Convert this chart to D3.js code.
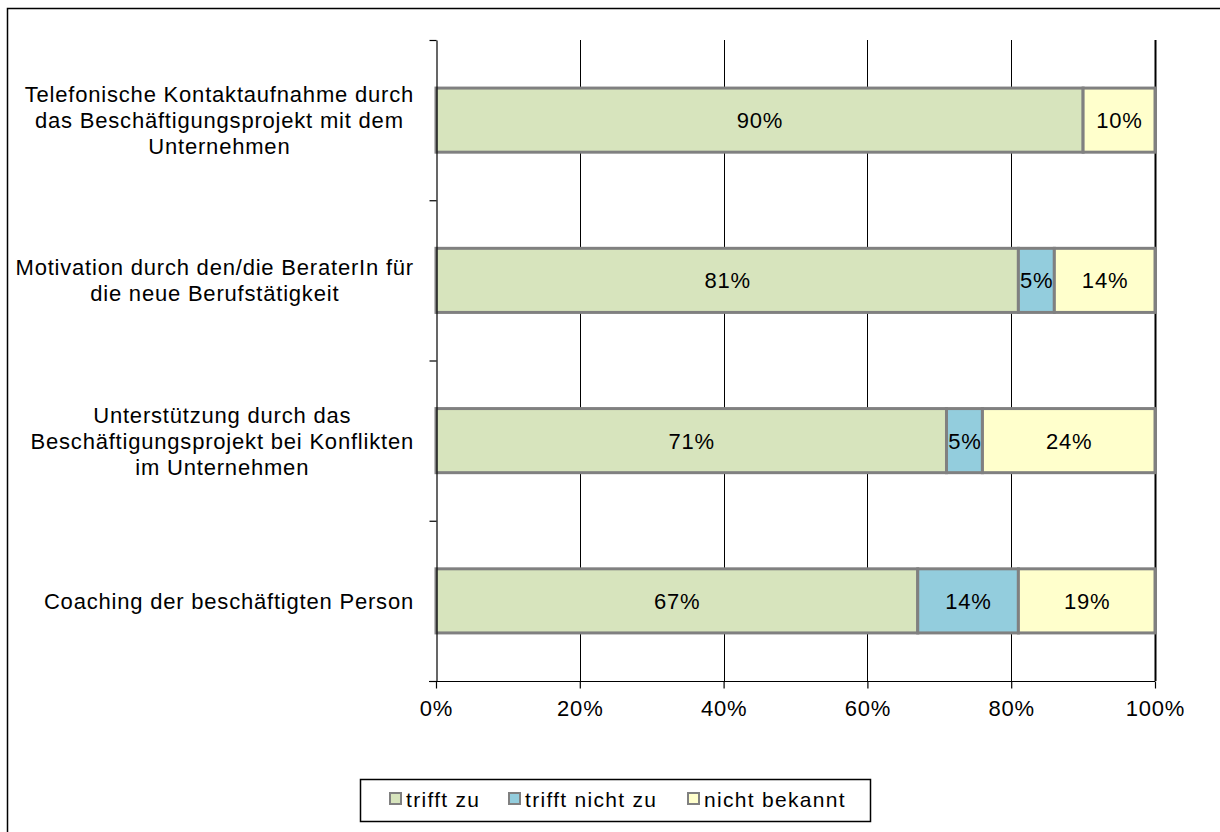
<!DOCTYPE html>
<html>
<head>
<meta charset="utf-8">
<script src="https://cdn.jsdelivr.net/npm/d3@7"></script>
<style>
  html, body { margin: 0; padding: 0; background: #fff; }
  svg { display: block; }
  text { font-family: "Liberation Sans", Arial, sans-serif; fill: #000; }
</style>
</head>
<body>
<svg id="chart" width="1220" height="832"></svg>
<script>
// Statements (each entry is one label, split into its lines)
const categories = [
  ["Telefonische Kontaktaufnahme durch", "das Beschäftigungsprojekt mit dem", "Unternehmen"],
  ["Motivation durch den/die BeraterIn für", "die neue Berufstätigkeit"],
  ["Unterstützung durch das", "Beschäftigungsprojekt bei Konflikten", "im Unternehmen"],
  ["Coaching der beschäftigten Person"]
];

// Shares in percent per answer
const triffZu      = [90, 81, 71, 67];
const triffNichtZu = [0, 5, 5, 14];
const nichtBekannt = [10, 14, 24, 19];

const seriesNames = ["trifft zu", "trifft nicht zu", "nicht bekannt"];
const seriesColors = ["#D7E4BD", "#93CDDD", "#FFFFCC"];

const xTicks = [0, 20, 40, 60, 80, 100];

// Layout
const plot = { left: 436, right: 1155, top: 40, bottom: 681 };
const fontSize = 22;
const spacing = 0.8;

const svg = d3.select("#chart");

// Outer chart frame
svg.append("rect")
  .attr("x", 7.5).attr("y", 8.5)
  .attr("width", 1240).attr("height", 850)
  .attr("fill", "none").attr("stroke", "#000").attr("stroke-width", 1.5);

const x = d3.scaleLinear().domain([0, 100]).range([plot.left, plot.right]);
const y = d3.scaleBand()
  .domain(d3.range(categories.length))
  .range([plot.top, plot.bottom])
  .paddingInner(0.6)
  .paddingOuter(0.3);
const rowEdge = d3.scaleLinear().domain([0, categories.length]).range([plot.top, plot.bottom]);

// Vertical gridlines
svg.append("g")
  .selectAll("line")
  .data(xTicks.filter(d => d > 0))
  .join("line")
  .attr("x1", d => Math.round(x(d)) + 0.5)
  .attr("x2", d => Math.round(x(d)) + 0.5)
  .attr("y1", plot.top)
  .attr("y2", plot.bottom)
  .attr("stroke", "#000")
  .attr("stroke-width", d => d === 100 ? 2 : 1);

// Stacked data
const rows = categories.map((c, i) => ({ i, values: [triffZu[i], triffNichtZu[i], nichtBekannt[i]] }));
const stack = d3.stack().keys([0, 1, 2]).value((d, k) => d.values[k]);
const layers = stack(rows);

const gBars = svg.append("g");
layers.forEach((layer, k) => {
  const g = gBars.append("g");
  layer.forEach(seg => {
    const v = seg[1] - seg[0];
    if (v <= 0) return;
    const i = seg.data.i;
    g.append("rect")
      .attr("x", x(seg[0]))
      .attr("y", y(i))
      .attr("width", x(seg[1]) - x(seg[0]))
      .attr("height", y.bandwidth())
      .attr("fill", seriesColors[k])
      .attr("stroke", "#808080")
      .attr("stroke-width", 3);
  });
});

// Value labels
layers.forEach((layer, k) => {
  layer.forEach(seg => {
    const v = seg[1] - seg[0];
    if (v <= 0) return;
    const i = seg.data.i;
    svg.append("text")
      .attr("x", (x(seg[0]) + x(seg[1])) / 2 + spacing / 2)
      .attr("y", y(i) + y.bandwidth() / 2 + fontSize * 0.36)
      .attr("text-anchor", "middle")
      .attr("font-size", fontSize)
      .attr("letter-spacing", spacing)
      .text(v + "%");
  });
});

// Y axis with ticks on the row boundaries
const yAxis = svg.append("g")
  .attr("transform", `translate(${plot.left + 0.5},0)`)
  .call(d3.axisLeft(rowEdge)
    .tickValues(d3.range(categories.length + 1))
    .tickFormat("")
    .tickSize(7)
    .tickSizeOuter(0));
yAxis.selectAll("path, line").attr("stroke", "#000").attr("stroke-width", 1.2);

// X axis
const xAxis = svg.append("g")
  .attr("transform", `translate(0,${plot.bottom + 0.5})`)
  .call(d3.axisBottom(x)
    .tickValues(xTicks)
    .tickFormat(d => d + "%")
    .tickSize(7)
    .tickPadding(12)
    .tickSizeOuter(0));
xAxis.select(".domain").attr("d", `M${plot.left - 7},0H${plot.right}`);
xAxis.selectAll("path, line").attr("stroke", "#000").attr("stroke-width", 1.2);
xAxis.selectAll("text")
  .attr("font-size", fontSize)
  .attr("letter-spacing", spacing)
  .attr("font-family", "Liberation Sans, Arial, sans-serif")
  .attr("fill", "#000");

// Category labels: lines centred on each other, block right-aligned
const labelRight = 414;
const lineHeight = 26;
categories.forEach((lines, i) => {
  const cy = y(i) + y.bandwidth() / 2;
  const g = svg.append("g");
  const texts = lines.map((line, j) => g.append("text")
    .attr("font-size", fontSize)
    .attr("letter-spacing", spacing)
    .attr("text-anchor", "middle")
    .attr("y", cy + (j - (lines.length - 1) / 2) * lineHeight + fontSize * 0.36)
    .text(line));
  const maxW = d3.max(texts, t => t.node().getComputedTextLength());
  texts.forEach(t => t.attr("x", labelRight - maxW / 2));
});

// Legend
const legend = svg.append("g");
legend.append("rect")
  .attr("x", 360.5).attr("y", 779.5)
  .attr("width", 510).attr("height", 42)
  .attr("fill", "#fff").attr("stroke", "#000").attr("stroke-width", 1.5);
const legendX = [389, 508, 687];
seriesNames.forEach((name, k) => {
  legend.append("rect")
    .attr("x", legendX[k] + 1).attr("y", 793)
    .attr("width", 11).attr("height", 11)
    .attr("fill", seriesColors[k])
    .attr("stroke", "#808080").attr("stroke-width", 2);
  legend.append("text")
    .attr("x", legendX[k] + 17)
    .attr("y", 807)
    .attr("font-size", 21)
    .attr("letter-spacing", 1.3)
    .text(name);
});
</script>
</body>
</html>
